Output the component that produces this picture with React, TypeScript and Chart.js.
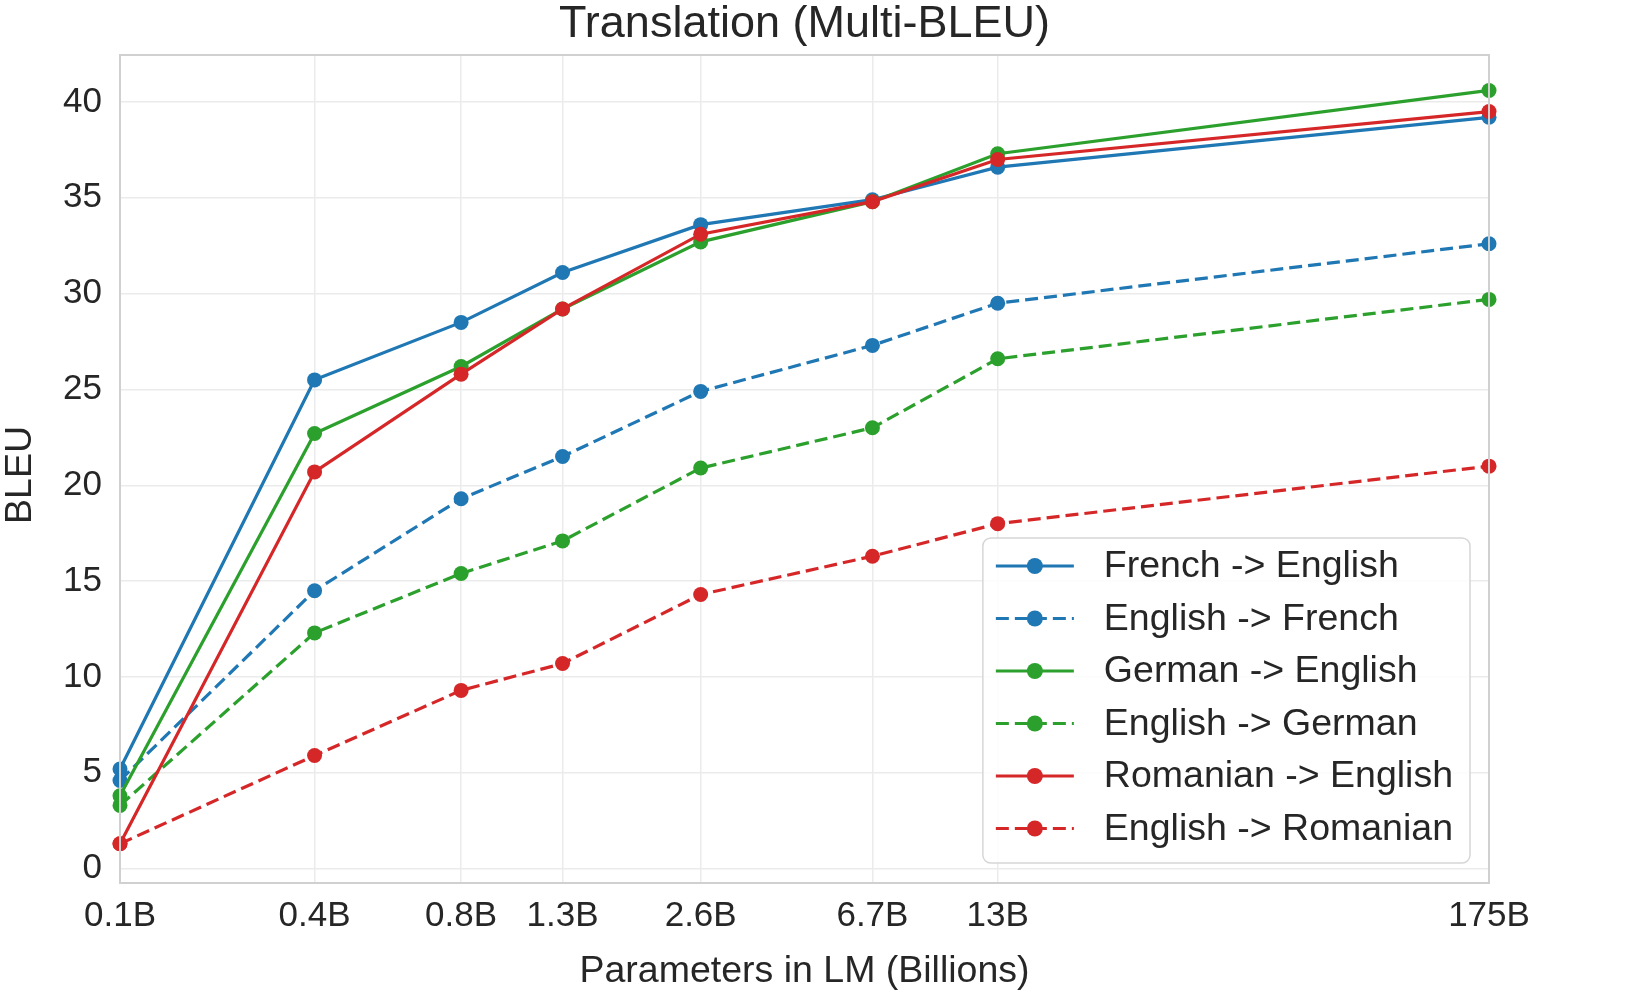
import React, { useEffect, useRef } from "react";
import { Chart, registerables } from "chart.js";

Chart.register(...registerables);

const X_VALUES = [0.125, 0.35, 0.76, 1.3, 2.7, 6.7, 13, 175];
const X_LABELS = ["0.1B", "0.4B", "0.8B", "1.3B", "2.6B", "6.7B", "13B", "175B"];
const Y_TICKS = [0, 5, 10, 15, 20, 25, 30, 35, 40];

const FR_EN = [5.2, 25.5, 28.5, 31.1, 33.6, 34.9, 36.6, 39.2];
const EN_FR = [4.6, 14.5, 19.3, 21.5, 24.9, 27.3, 29.5, 32.6];
const DE_EN = [3.8, 22.7, 26.2, 29.2, 32.7, 34.8, 37.3, 40.6];
const EN_DE = [3.3, 12.3, 15.4, 17.1, 20.9, 23.0, 26.6, 29.7];
const RO_EN = [1.3, 20.7, 25.8, 29.2, 33.1, 34.8, 37.0, 39.5];
const EN_RO = [1.3, 5.9, 9.3, 10.7, 14.3, 16.3, 18.0, 21.0];

const SERIES_NAMES = [
  "French -> English",
  "English -> French",
  "German -> English",
  "English -> German",
  "Romanian -> English",
  "English -> Romanian",
];
const SERIES_VALUES = [FR_EN, EN_FR, DE_EN, EN_DE, RO_EN, EN_RO];
const SERIES_COLORS = ["#1f77b4", "#1f77b4", "#2ca02c", "#2ca02c", "#d62728", "#d62728"];
const SERIES_DASHED = [false, true, false, true, false, true];

const TITLE = "Translation (Multi-BLEU)";
const X_TITLE = "Parameters in LM (Billions)";
const Y_TITLE = "BLEU";

const FONT = "'Liberation Sans', Arial, Helvetica, sans-serif";
const TEXT = "#262626";
const DASH = [13, 6];
const SPINE = "#d0d0d0";

const framePlugin = {
  id: "frame",
  afterDatasetsDraw(chart: any) {
    const { ctx, chartArea: ca } = chart;
    ctx.save();
    ctx.strokeStyle = SPINE;
    ctx.lineWidth = 2;
    ctx.strokeRect(ca.left, ca.top, ca.right - ca.left, ca.bottom - ca.top);
    ctx.restore();
  },
};

const overlayPlugin = {
  id: "overlay",
  afterDraw(chart: any) {
    const { ctx, chartArea } = chart;
    const ca = chartArea;
    ctx.save();
    ctx.fillStyle = TEXT;
    ctx.textAlign = "center";
    ctx.textBaseline = "middle";
    ctx.font = `45px ${FONT}`;
    ctx.fillText(TITLE, (ca.left + ca.right) / 2, 25);
    ctx.font = `37.5px ${FONT}`;
    ctx.fillText(X_TITLE, (ca.left + ca.right) / 2, 972);
    ctx.save();
    ctx.translate(21, (ca.top + ca.bottom) / 2 + 6);
    ctx.rotate(-Math.PI / 2);
    ctx.fillText(Y_TITLE, 0, 0);
    ctx.restore();

    // legend
    ctx.font = `37.5px ${FONT}`;
    let maxW = 0;
    SERIES_NAMES.forEach((n) => (maxW = Math.max(maxW, ctx.measureText(n).width)));
    const pad = 13;
    const handle = 78;
    const gap = 30;
    const rowH = 52.5;
    const w = pad + handle + gap + maxW + pad + 4;
    const h = rowH * SERIES_NAMES.length + 10;
    const x1 = ca.right - 19;
    const y1 = ca.bottom - 20;
    const x0 = x1 - w;
    const y0 = y1 - h;
    ctx.beginPath();
    (ctx as any).roundRect(x0, y0, w, h, 8);
    ctx.fillStyle = "rgba(255,255,255,0.85)";
    ctx.fill();
    ctx.strokeStyle = "#d6d6d6";
    ctx.lineWidth = 1.5;
    ctx.stroke();
    SERIES_NAMES.forEach((name, i) => {
      const cy = y0 + 28 + i * rowH;
      const hx0 = x0 + pad;
      ctx.strokeStyle = SERIES_COLORS[i];
      ctx.lineWidth = 3;
      ctx.setLineDash(SERIES_DASHED[i] ? DASH : []);
      ctx.beginPath();
      ctx.moveTo(hx0, cy);
      ctx.lineTo(hx0 + handle, cy);
      ctx.stroke();
      ctx.setLineDash([]);
      ctx.fillStyle = SERIES_COLORS[i];
      ctx.beginPath();
      ctx.arc(hx0 + handle / 2, cy, 8, 0, Math.PI * 2);
      ctx.fill();
      ctx.fillStyle = TEXT;
      ctx.textAlign = "left";
      ctx.fillText(name, hx0 + handle + gap, cy + 1);
    });
    ctx.restore();
  },
};

export default function App() {
  const ref = useRef<HTMLCanvasElement | null>(null);
  useEffect(() => {
    if (!ref.current) return;
    const datasets = SERIES_NAMES.map((name, i) => ({
      label: name,
      data: X_VALUES.map((x, j) => ({ x, y: SERIES_VALUES[i][j] })),
      borderColor: SERIES_COLORS[i],
      backgroundColor: SERIES_COLORS[i],
      borderWidth: 3.2,
      borderDash: SERIES_DASHED[i] ? DASH : [],
      pointRadius: 7.5,
      pointBorderWidth: 0,
      pointBackgroundColor: SERIES_COLORS[i],
      tension: 0,
      order: SERIES_NAMES.length - i,
      clip: false as any,
    }));
    const chart = new Chart(ref.current, {
      type: "line",
      data: { datasets },
      options: {
        animation: false,
        responsive: true,
        maintainAspectRatio: false,
        devicePixelRatio: 1,
        layout: { padding: { left: 0, right: 146, top: 55, bottom: 0 } },
        plugins: { legend: { display: false }, title: { display: false }, tooltip: { enabled: false } },
        scales: {
          x: {
            type: "logarithmic",
            min: X_VALUES[0],
            max: X_VALUES[X_VALUES.length - 1],
            afterBuildTicks: (scale: any) => {
              scale.ticks = X_VALUES.map((v) => ({ value: v }));
            },
            afterFit: (scale: any) => {
              scale.height = 112;
            },
            ticks: {
              autoSkip: false,
              maxRotation: 0,
              padding: 12,
              color: TEXT,
              font: { family: FONT, size: 35 },
              callback: (_v: any, idx: number) => X_LABELS[idx],
            },
            grid: { color: "#ebebeb", lineWidth: 1.5, drawTicks: false },
            border: { color: SPINE, width: 2 },
          },
          y: {
            type: "linear",
            min: -0.75,
            max: 42.45,
            afterBuildTicks: (scale: any) => {
              scale.ticks = Y_TICKS.map((v) => ({ value: v }));
            },
            afterFit: (scale: any) => {
              scale.width = 120;
            },
            ticks: {
              padding: 18,
              color: TEXT,
              font: { family: FONT, size: 35 },
              callback: (v: any) => String(v),
            },
            grid: { color: "#ebebeb", lineWidth: 1.5, drawTicks: false },
            border: { color: SPINE, width: 2 },
          },
        },
      },
      plugins: [framePlugin, overlayPlugin],
    });
    return () => chart.destroy();
  }, []);
  return (
    <div style={{ position: "fixed", left: 0, top: 0, width: 1635, height: 995, background: "#fff" }}>
      <canvas ref={ref} />
    </div>
  );
}
